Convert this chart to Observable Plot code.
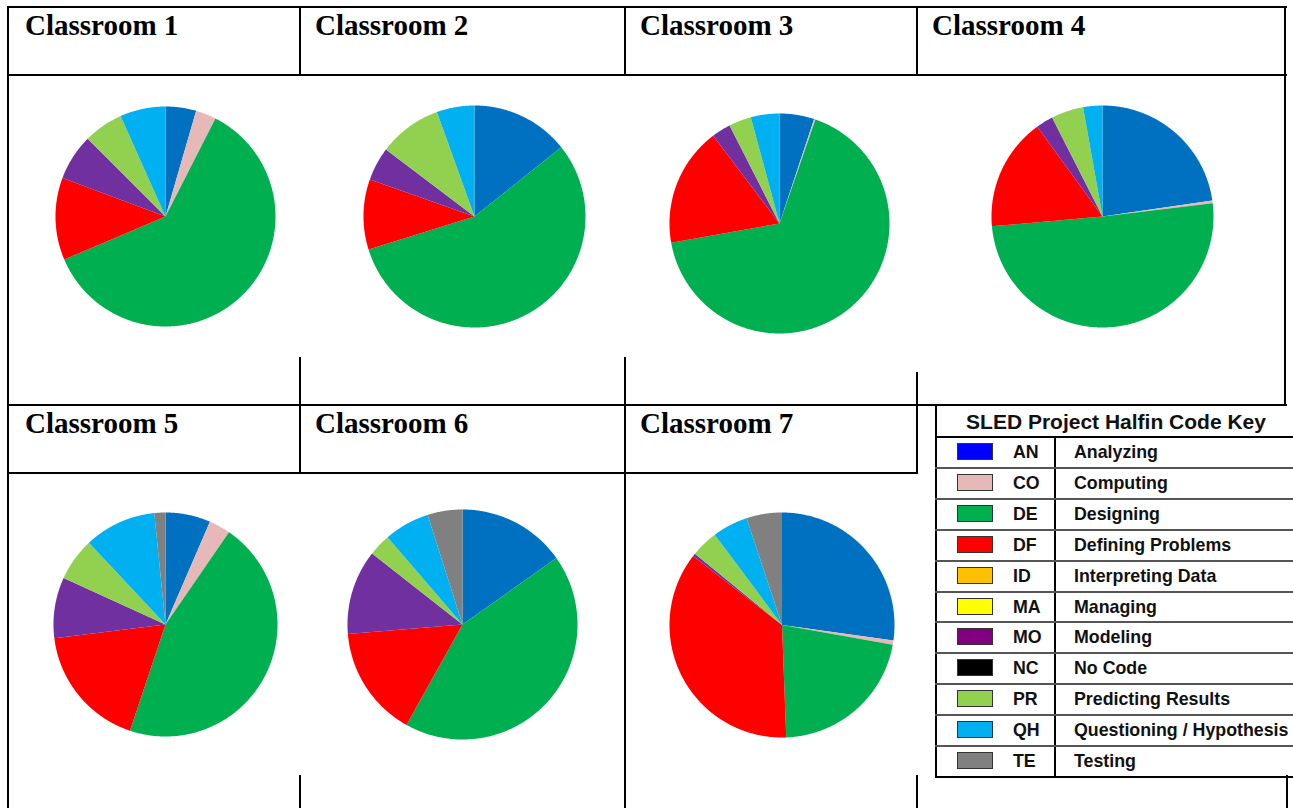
<!DOCTYPE html>
<html>
<head>
<meta charset="utf-8">
<script src="https://cdn.jsdelivr.net/npm/d3@7"></script>
<script src="https://cdn.jsdelivr.net/npm/@observablehq/plot@0.6"></script>
<style>
  html, body { margin: 0; padding: 0; background: #fff; }
  body { width: 1293px; height: 808px; overflow: hidden; position: relative; }
  .ln { position: absolute; background: #000; }
  .gl { position: absolute; background: #555; }
  .title { position: absolute; font: bold 29px "Liberation Serif", "Times New Roman", serif; line-height: 29px; white-space: nowrap; color: #000; }
  .pie { position: absolute; }
  .pie svg { display: block; }
  .lt { position: absolute; font: bold 17.8px "Liberation Sans", Arial, sans-serif; white-space: nowrap; color: #111; line-height: 31px; }
  .ltitle { position: absolute; font: bold 21px "Liberation Sans", Arial, sans-serif; white-space: nowrap; color: #111; line-height: 31px; text-align: center; }
  .sw { position: absolute; width: 34px; height: 15px; border: 1px solid #333; }
</style>
</head>
<body>
<script>
// ---- Data ----
const classrooms = ["Classroom 1", "Classroom 2", "Classroom 3", "Classroom 4", "Classroom 5", "Classroom 6", "Classroom 7"];
const codes = ["AN", "CO", "DE", "DF", "ID", "MA", "MO", "NC", "PR", "QH", "TE"];
const codeNames = ["Analyzing", "Computing", "Designing", "Defining Problems", "Interpreting Data", "Managing", "Modeling", "No Code", "Predicting Results", "Questioning / Hypothesis", "Testing"];
const legendColors = ["#0000FF", "#E6B9B8", "#00B050", "#FF0000", "#FFC000", "#FFFF00", "#800080", "#000000", "#92D050", "#00B0F0", "#808080"];
const pieColors = ["#0070C0", "#E6B9B8", "#00B050", "#FF0000", "#FFC000", "#FFFF00", "#7030A0", "#000000", "#92D050", "#00B0F0", "#808080"];
// percentage share of each code, in the order of `codes`
const classroom1 = [4.5, 3.0, 61.1, 12.1, 0, 0, 6.8, 0, 5.8, 6.7, 0];
const classroom2 = [14.3, 0, 55.9, 10.2, 0, 0, 4.9, 0, 9.2, 5.5, 0];
const classroom3 = [5.1, 0.2, 66.9, 17.5, 0, 0, 2.8, 0, 3.3, 4.2, 0];
const classroom4 = [22.7, 0.4, 50.5, 16.4, 0, 0, 2.5, 0, 4.7, 2.8, 0];
const classroom5 = [6.5, 3.1, 45.6, 17.9, 0, 0, 8.8, 0, 6.2, 10.4, 1.6];
const classroom6 = [15.2, 0, 42.9, 15.6, 0, 0, 11.9, 0, 3.1, 6.4, 4.9];
const classroom7 = [27.2, 0.6, 21.6, 36.1, 0, 0, 0.4, 0, 3.9, 5.1, 5.1];
const classroomValues = [classroom1, classroom2, classroom3, classroom4, classroom5, classroom6, classroom7];

// ---- Layout ----
const body = document.body;
function line(x, y, w, h, cls) {
  const d = document.createElement("div");
  d.className = cls || "ln";
  Object.assign(d.style, {left: x + "px", top: y + "px", width: w + "px", height: h + "px"});
  body.appendChild(d);
}
// table grid
line(7, 6, 1280, 2);      // top
line(7, 74, 1280, 2);     // row1 header bottom
line(7, 6, 2, 802);       // left border
line(299, 6, 2, 70); line(624, 6, 2, 70); line(916, 6, 2, 70);
line(1284, 6, 2, 400);    // right border row 1
line(299, 357, 2, 48); line(624, 357, 2, 48); line(916, 372, 2, 33);
line(7, 404, 1280, 2);    // row2 top
line(7, 472, 911, 2);     // row2 header bottom
line(299, 404, 2, 70); line(299, 775, 2, 33);
line(624, 404, 2, 404);
line(916, 404, 2, 70); line(916, 775, 2, 33);
line(1286, 775, 2, 33);

// titles
const titlePos = [[25, 11], [315, 11], [640, 11], [932, 11], [25, 409], [315, 409], [640, 409]];
classrooms.forEach((t, i) => {
  const d = document.createElement("div");
  d.className = "title";
  d.textContent = t;
  d.style.left = titlePos[i][0] + "px";
  d.style.top = titlePos[i][1] + "px";
  body.appendChild(d);
});

// pies
const pieGeom = [[165, 216, 110], [474, 216, 111], [779, 223, 110], [1102, 216, 111], [165, 624, 112], [462, 624, 115], [781, 624, 112.5]];
classroomValues.forEach((vals, i) => {
  const total = d3.sum(vals);
  const pts = [];
  let acc = 0;
  vals.forEach((v, j) => {
    if (v <= 0) return;
    const a0 = acc / total * 2 * Math.PI;
    acc += v;
    const a1 = acc / total * 2 * Math.PI;
    const key = codes[j];
    pts.push({x: 0, y: 0, key, code: key});
    const n = Math.max(2, Math.ceil((a1 - a0) / (Math.PI / 360)));
    for (let k = 0; k <= n; k++) {
      const a = a0 + (a1 - a0) * k / n;
      pts.push({x: Math.sin(a), y: Math.cos(a), key, code: key});
    }
  });
  const [cx, cy, r] = pieGeom[i];
  const size = 2 * r;
  const chart = Plot.plot({
    width: size,
    height: size,
    margin: 0,
    x: {domain: [-1, 1], axis: null},
    y: {domain: [-1, 1], axis: null},
    color: {domain: codes, range: pieColors},
    style: {background: "transparent", overflow: "visible"},
    marks: [
      Plot.line(pts, {x: "x", y: "y", z: "key", fill: "code", stroke: "none", curve: "linear-closed"})
    ]
  });
  const wrap = document.createElement("div");
  wrap.className = "pie";
  wrap.style.left = (cx - r) + "px";
  wrap.style.top = (cy - r) + "px";
  wrap.appendChild(chart);
  body.appendChild(wrap);
});

// legend table
const lgTop = 405, titleH = 31, rowH = 30.9;
line(935, lgTop, 2, 371);
const tt = document.createElement("div");
tt.className = "ltitle";
tt.textContent = "SLED Project Halfin Code Key";
Object.assign(tt.style, {left: "936px", width: "360px", top: (lgTop + 1) + "px"});
body.appendChild(tt);
line(935, lgTop + titleH, 360, 2);
line(1054, lgTop + titleH, 2, 11 * rowH + 1);
codes.forEach((c, i) => {
  const top = lgTop + titleH + i * rowH;
  if (i > 0) line(935, top, 360, 2, "gl");
  const sw = document.createElement("div");
  sw.className = "sw";
  sw.style.left = "957px";
  sw.style.top = (top + 7) + "px";
  sw.style.background = legendColors[i];
  body.appendChild(sw);
  const ct = document.createElement("div");
  ct.className = "lt";
  ct.textContent = c;
  Object.assign(ct.style, {left: "1013px", top: (top + 1) + "px"});
  body.appendChild(ct);
  const nt = document.createElement("div");
  nt.className = "lt";
  nt.textContent = codeNames[i];
  Object.assign(nt.style, {left: "1074px", top: (top + 1) + "px"});
  body.appendChild(nt);
});
line(935, lgTop + titleH + 11 * rowH, 360, 2);
</script>
</body>
</html>
